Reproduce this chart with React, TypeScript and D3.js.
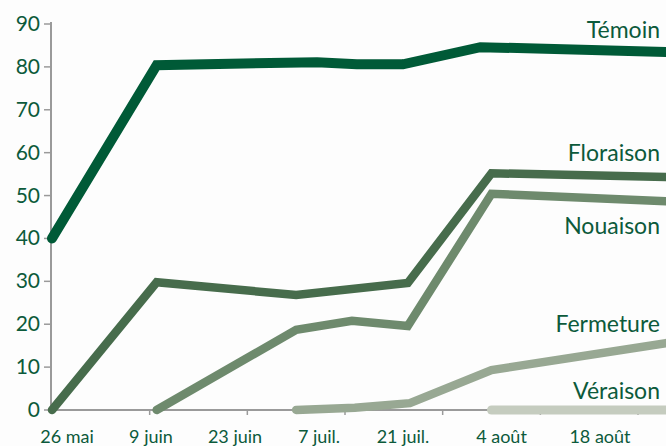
import { useEffect, useRef } from 'react';
import * as d3 from 'd3';

// days counted from 26 mai
const tickDays = [0, 14, 28, 42, 56, 70, 84];
const tickLabels = ['26 mai', '9 juin', '23 juin', '7 juil.', '21 juil.', '4 août', '18 août'];
const yTicks = [0, 10, 20, 30, 40, 50, 60, 70, 80, 90];

const temoinDays = [0, 15, 38, 43.7, 50.3, 61.4, 88];
const temoinValues = [40, 80.4, 81.1, 80.6, 80.6, 84.6, 83.5];

const floraisonDays = [0, 15, 35, 51, 63, 88];
const floraisonValues = [0, 29.8, 26.8, 29.6, 55.2, 54.3];

const nouaisonDays = [15, 35, 43, 51, 63, 88];
const nouaisonValues = [0, 18.7, 20.8, 19.6, 50.4, 48.7];

const fermetureDays = [35, 43.4, 51.3, 63, 88];
const fermetureValues = [0, 0.5, 1.6, 9.3, 15.6];

const veraisonDays = [63, 88];
const veraisonValues = [0, 0];

const seriesNames = ['Témoin', 'Floraison', 'Nouaison', 'Fermeture', 'Véraison'];

const W = 666;
const H = 446;
const TEXT = '#0c5a3b';
const FONT = 'Lato, "Open Sans", sans-serif';

export default function App() {
  const svgRef = useRef<SVGSVGElement>(null);

  useEffect(() => {
    const svg = d3.select(svgRef.current);
    svg.selectAll('*').remove();

    const x = d3.scaleLinear().domain([0, 84]).range([52, 638]);
    // tick labels sit a little off the tick marks in the original
    const xLabel = d3.scaleLinear().domain([0, 56, 84]).range([67, 403, 600]);
    const y = d3.scaleLinear().domain([0, 90]).range([410, 24]);

    svg.append('rect').attr('width', W).attr('height', H).attr('fill', '#fdfdfd');

    // axes
    const axisColor = '#9a9a9a';
    svg.append('line')
      .attr('x1', x(0)).attr('x2', W)
      .attr('y1', y(0)).attr('y2', y(0))
      .attr('stroke', axisColor).attr('stroke-width', 2);
    svg.append('line')
      .attr('x1', x(0) - 1).attr('x2', x(0) - 1)
      .attr('y1', y(90) - 2).attr('y2', y(0))
      .attr('stroke', axisColor).attr('stroke-width', 2);

    svg.selectAll('.ytick')
      .data(yTicks)
      .enter()
      .append('line')
      .attr('x1', x(0) - 8).attr('x2', x(0) - 1)
      .attr('y1', d => y(d)).attr('y2', d => y(d))
      .attr('stroke', axisColor).attr('stroke-width', 1.5);

    svg.selectAll('.ylabel')
      .data(yTicks)
      .enter()
      .append('text')
      .attr('x', 40)
      .attr('y', d => y(d) + 7)
      .attr('text-anchor', 'end')
      .style('font-family', FONT)
      .style('font-size', '21px')
      .style('fill', TEXT)
      .text(d => d);

    svg.selectAll('.xtick')
      .data(tickDays.slice(1))
      .enter()
      .append('line')
      .attr('x1', d => x(d)).attr('x2', d => x(d))
      .attr('y1', y(0)).attr('y2', y(0) + 5)
      .attr('stroke', axisColor).attr('stroke-width', 1.5);

    svg.selectAll('.xlabel')
      .data(tickLabels)
      .enter()
      .append('text')
      .attr('x', (d, i) => xLabel(tickDays[i]))
      .attr('y', 443)
      .attr('text-anchor', 'middle')
      .style('font-family', FONT)
      .style('font-size', '18px')
      .style('fill', TEXT)
      .text(d => d);

    // series, drawn light to dark so the darker lines sit on top
    const series = [
      { days: veraisonDays, values: veraisonValues, color: '#c5ccbf', w: 9, labelDy: -11 },
      { days: fermetureDays, values: fermetureValues, color: '#98a893', w: 8.5, labelDy: -11 },
      { days: nouaisonDays, values: nouaisonValues, color: '#6e8a6d', w: 8.5, labelDy: 33 },
      { days: floraisonDays, values: floraisonValues, color: '#476c4c', w: 8.5, labelDy: -16 },
      { days: temoinDays, values: temoinValues, color: '#005a37', w: 10, labelDy: -14 },
    ];
    const names = [...seriesNames].reverse();

    const line = d3.line<[number, number]>()
      .x(d => x(d[0]))
      .y(d => y(d[1]));

    series.forEach((s, i) => {
      const pts = s.days.map((d, j) => [d, s.values[j]] as [number, number]);
      svg.append('path')
        .attr('d', line(pts))
        .attr('fill', 'none')
        .attr('stroke', s.color)
        .attr('stroke-width', s.w)
        .attr('stroke-linecap', 'round')
        .attr('stroke-linejoin', 'miter');

      svg.append('text')
        .attr('x', 660)
        .attr('y', y(s.values[s.values.length - 1]) + s.labelDy)
        .attr('text-anchor', 'end')
        .style('font-family', FONT)
        .style('font-size', '23px')
        .style('fill', TEXT)
        .text(names[i]);
    });
  }, []);

  return (
    <div style={{ position: 'fixed', left: 0, top: 0 }}>
      <svg ref={svgRef} width={W} height={H} style={{ display: 'block' }}></svg>
    </div>
  );
}
